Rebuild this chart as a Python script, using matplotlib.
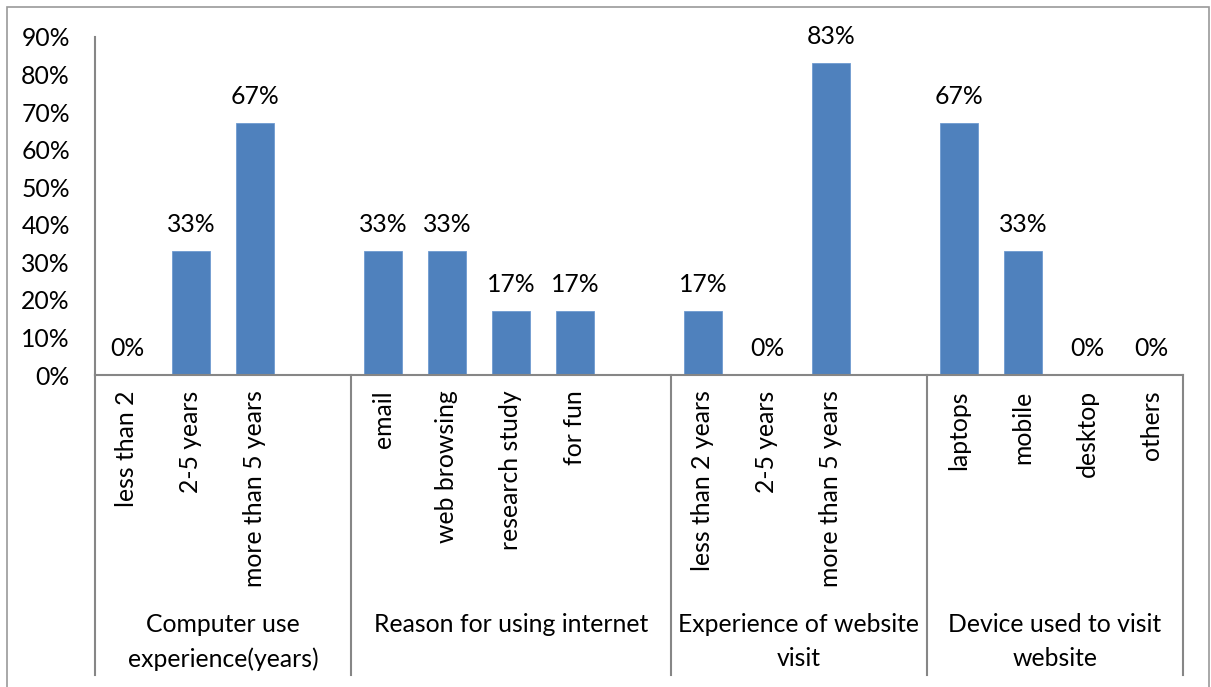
import matplotlib.pyplot as plt
from matplotlib.patches import Rectangle

plt.rcParams['font.family'] = ['Lato', 'DejaVu Sans']

# survey results, grouped by question; None marks the spacer slot after a group
groups = ["Computer use\nexperience(years)", "Reason for using internet",
          "Experience of website\nvisit", "Device used to visit\nwebsite"]
categories = [
    ["less than 2", "2-5 years", "more than 5 years", ""],
    ["email", "web browsing", "research study", "for fun", ""],
    ["less than 2 years", "2-5 years", "more than 5 years", ""],
    ["laptops", "mobile", "desktop", "others"],
]
values = [
    [0.00, 0.33, 0.67, None],
    [0.33, 0.33, 0.17, 0.17, None],
    [0.17, 0.00, 0.83, None],
    [0.67, 0.33, 0.00, 0.00],
]
yticks = [0, 0.1, 0.2, 0.3, 0.4, 0.5, 0.6, 0.7, 0.8, 0.9]

bar_color = "#4f81bd"
axis_color = "#868686"
fs = 17.8

W, H = 1211, 687
fig = plt.figure(figsize=(W / 100, H / 100), dpi=100)
ax = fig.add_axes([95 / W, 1 - 375 / H, (1183 - 95) / W, (375 - 37) / H])

labels = [c for grp in categories for c in grp]
vals = [v for grp in values for v in grp]
xs = list(range(len(labels)))

for x, v in zip(xs, vals):
    if v is None:
        continue
    ax.bar(x, v, width=0.58, color=bar_color, edgecolor="#6f9bd0", linewidth=0.6)
    ax.annotate(f"{round(v * 100):d}%", (x, v), xytext=(0, 11), textcoords="offset points",
                ha="center", va="bottom", fontsize=fs)

ax.set_xlim(-0.5, len(labels) - 0.5)
ax.set_ylim(0, 0.9)
ax.set_yticks(yticks)
ax.set_yticklabels([f"{round(t * 100)}%" for t in yticks], fontsize=fs)
ax.set_xticks(xs)
ax.set_xticklabels(labels, rotation=90, va="top", ha="center", fontsize=fs)
ax.tick_params(axis="both", length=0)
ax.tick_params(axis="x", pad=11)
ax.tick_params(axis="y", pad=18)

for side in ["top", "right"]:
    ax.spines[side].set_visible(False)
for side in ["left", "bottom"]:
    ax.spines[side].set_color(axis_color)
    ax.spines[side].set_linewidth(1.5)

# group separators and group names below the tick labels
trans = ax.get_xaxis_transform()
y_low = (375 - 675) / (375 - 37)
y_name = (375 - 613) / (375 - 37)
start = -0.5
bounds = [start]
for grp in categories:
    start += len(grp)
    bounds.append(start)
for b in bounds:
    ax.plot([b, b], [0, y_low], transform=trans, color=axis_color, lw=1.5, clip_on=False)
for g, a, b in zip(groups, bounds[:-1], bounds[1:]):
    ax.text((a + b) / 2, y_name, g, transform=trans, ha="center", va="top",
            fontsize=fs, linespacing=1.6)

# chart area border
fig.patches.append(Rectangle((7 / W, -0.01), (1209 - 7) / W, 1 - 7 / H + 0.01,
                             transform=fig.transFigure, fill=False,
                             edgecolor="#9a9a9a", linewidth=1.2))

fig.savefig("out.png", dpi=100)
